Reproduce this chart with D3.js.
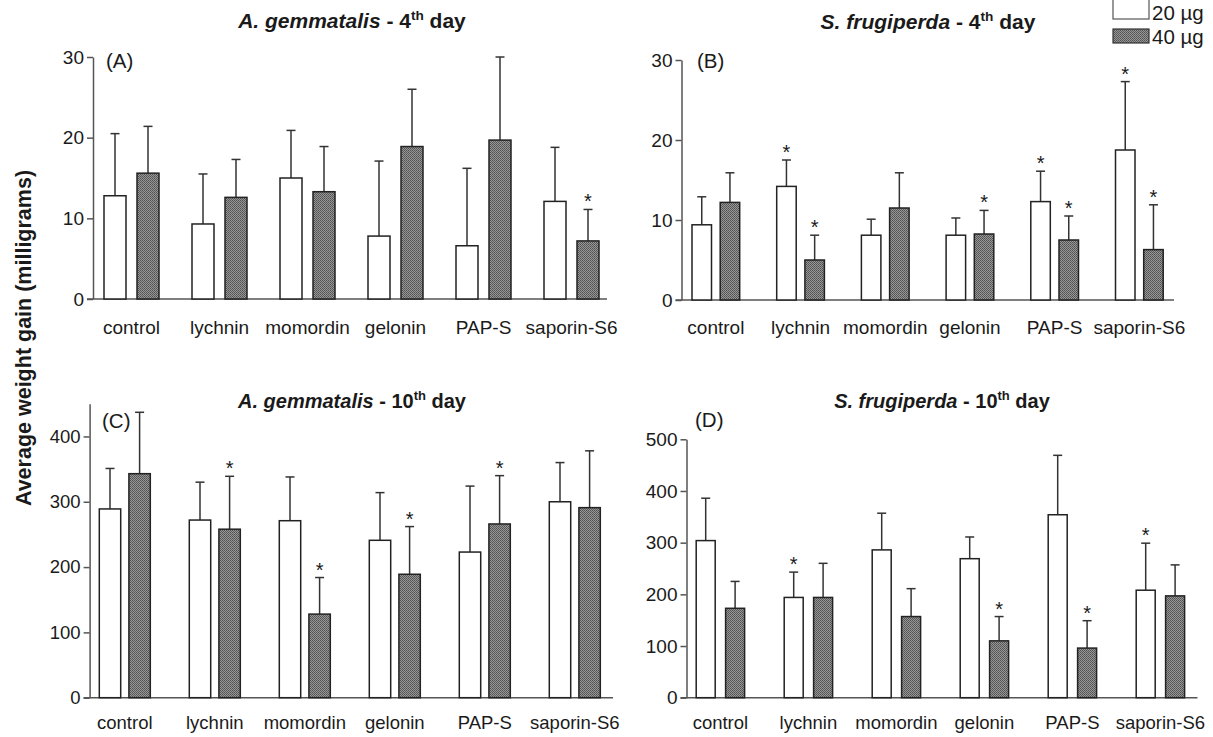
<!DOCTYPE html>
<html>
<head>
<meta charset="utf-8">
<script src="https://cdn.jsdelivr.net/npm/d3@7"></script>
<style>
  body { margin: 0; background: #fff; }
  svg text { font-family: "Liberation Sans", Arial, sans-serif; fill: #1a1a1a; }
</style>
</head>
<body>
<svg id="chart" width="1213" height="737"></svg>
<script>
// weight gain data

var categories = ["control", "lychnin", "momordin", "gelonin", "PAP-S", "saporin-S6"];
var doses = ["20 \u00b5g", "40 \u00b5g"];

// (A) A. gemmatalis, 4th day
var agem4_20 = [12.8, 9.3, 15.0, 7.8, 6.6, 12.1];
var agem4_20_sd = [7.7, 6.2, 5.9, 9.3, 9.6, 6.7];
var agem4_40 = [15.6, 12.6, 13.3, 18.9, 19.7, 7.2];
var agem4_40_sd = [5.8, 4.7, 5.6, 7.1, 10.3, 3.9];
var agem4_20_stars = [];
var agem4_40_stars = ["saporin-S6"];

// (B) S. frugiperda, 4th day
var sfru4_20 = [9.4, 14.2, 8.1, 8.1, 12.3, 18.75];
var sfru4_20_sd = [3.5, 3.3, 2.0, 2.15, 3.8, 8.55];
var sfru4_40 = [12.2, 5.0, 11.5, 8.25, 7.5, 6.3];
var sfru4_40_sd = [3.7, 3.1, 4.4, 2.95, 3.0, 5.6];
var sfru4_20_stars = ["lychnin", "PAP-S", "saporin-S6"];
var sfru4_40_stars = ["lychnin", "gelonin", "PAP-S", "saporin-S6"];

// (C) A. gemmatalis, 10th day
var agem10_20 = [289, 272, 271, 241, 223, 300];
var agem10_20_sd = [62, 58, 67, 73, 101, 60];
var agem10_40 = [343, 258, 128, 189, 266, 291];
var agem10_40_sd = [94, 81, 56, 73, 74, 87];
var agem10_20_stars = [];
var agem10_40_stars = ["lychnin", "momordin", "gelonin", "PAP-S"];

// (D) S. frugiperda, 10th day
var sfru10_20 = [304, 194, 286, 269, 354, 208];
var sfru10_20_sd = [82, 49, 71, 42, 115, 91];
var sfru10_40 = [173, 194, 157, 110, 96, 197];
var sfru10_40_sd = [52, 66, 54, 47, 53, 60];
var sfru10_20_stars = ["lychnin", "saporin-S6"];
var sfru10_40_stars = ["gelonin", "PAP-S"];

var ticksTop = [0, 10, 20, 30];
var ticksC = [0, 100, 200, 300, 400];
var ticksD = [0, 100, 200, 300, 400, 500];

var svg = d3.select("#chart");

// stippled grey fill for the 40 ug bars
var defs = svg.append("defs");
var pat = defs.append("pattern")
  .attr("id", "stipple")
  .attr("patternUnits", "userSpaceOnUse")
  .attr("width", 2).attr("height", 2);
pat.append("rect").attr("width", 2).attr("height", 2).attr("fill", "#979797");
pat.append("rect").attr("width", 1).attr("height", 1).attr("fill", "#505050");
pat.append("rect").attr("x", 1).attr("y", 1).attr("width", 1).attr("height", 1).attr("fill", "#5e5e5e");

///////////////////////////////////////////////////////////////////////////////
// one panel

var drawPanel = function (p) {
  var g = svg.append("g");

  var y = d3.scaleLinear().domain([0, p.ymax]).range([p.y0, p.ytop]);

  // groups: first white bar starts at p.first, groups p.step apart
  var groupW = 2 * p.barW + p.gap;
  var pin = (p.step - groupW) / p.step;
  var r0 = p.first - pin * p.step / 2;
  var x = d3.scaleBand().domain(categories)
    .range([r0, r0 + categories.length * p.step])
    .paddingInner(pin).paddingOuter(pin / 2);
  var xs = d3.scaleBand().domain(doses).range([0, groupW])
    .paddingInner(p.gap / (p.barW + p.gap));

  // y axis
  var yAxis = g.append("g")
    .attr("transform", "translate(" + p.left + ",0)")
    .call(d3.axisLeft(y).tickValues(p.ticks).tickSize(6).tickSizeOuter(0).tickPadding(3));
  yAxis.selectAll("path, line").attr("stroke", "#555").attr("stroke-width", 1.5);
  yAxis.selectAll("text").attr("font-size", p.tickFs || p.fs).style("font-family", null);

  // x axis line and category labels
  g.append("line")
    .attr("x1", p.left - 6).attr("x2", p.right)
    .attr("y1", y(0)).attr("y2", y(0))
    .attr("stroke", "#555").attr("stroke-width", 1.5);

  var xAxis = g.append("g")
    .attr("transform", "translate(0," + p.labelY + ")")
    .call(d3.axisBottom(x).tickSize(0).tickPadding(0));
  xAxis.select(".domain").remove();
  xAxis.selectAll("text").attr("font-size", p.fs).attr("dy", 0);

  var series = [
    {dose: doses[0], vals: p.v20, sd: p.sd20, stars: p.st20, fill: "#fff"},
    {dose: doses[1], vals: p.v40, sd: p.sd40, stars: p.st40, fill: "url(#stipple)"}
  ];

  series.forEach(function (s) {
    var rows = categories.map(function (c, i) {
      return {cat: c, v: s.vals[i], sd: s.sd[i], star: s.stars.indexOf(c) >= 0};
    });
    var cx = function (d) { return x(d.cat) + xs(s.dose) + xs.bandwidth() / 2; };

    // error bars (upper only)
    g.selectAll(null).data(rows).enter().append("line")
      .attr("x1", cx).attr("x2", cx)
      .attr("y1", function (d) { return y(d.v); })
      .attr("y2", function (d) { return y(d.v + d.sd); })
      .attr("stroke", "#333").attr("stroke-width", 1.5);
    g.selectAll(null).data(rows).enter().append("line")
      .attr("x1", function (d) { return cx(d) - 4.5; })
      .attr("x2", function (d) { return cx(d) + 4.5; })
      .attr("y1", function (d) { return y(d.v + d.sd); })
      .attr("y2", function (d) { return y(d.v + d.sd); })
      .attr("stroke", "#333").attr("stroke-width", 1.5);

    g.selectAll(null).data(rows).enter().append("rect")
      .attr("x", function (d) { return x(d.cat) + xs(s.dose); })
      .attr("width", xs.bandwidth())
      .attr("y", function (d) { return y(d.v); })
      .attr("height", function (d) { return y(0) - y(d.v); })
      .attr("fill", s.fill)
      .attr("stroke", "#222").attr("stroke-width", 1.5);

    g.selectAll(null).data(rows.filter(function (d) { return d.star; })).enter().append("text")
      .attr("x", cx)
      .attr("y", function (d) { return y(d.v + d.sd) - 1; })
      .attr("text-anchor", "middle")
      .attr("font-size", 20)
      .text("*");
  });

  // title
  var t = g.append("text")
    .attr("x", p.titleX).attr("y", p.titleY)
    .attr("text-anchor", "middle")
    .attr("font-size", p.tfs).attr("font-weight", "bold");
  t.append("tspan").attr("font-style", "italic").text(p.species);
  t.append("tspan").text(" - " + p.day);
  t.append("tspan").attr("font-size", p.tfs * 0.65).attr("dy", -p.tfs * 0.4).text("th");
  t.append("tspan").attr("dy", p.tfs * 0.4).text(" day");

  g.append("text")
    .attr("x", p.tagX).attr("y", p.tagY)
    .attr("font-size", 20.5)
    .text(p.tag);
};

drawPanel({tag: "(A)", species: "A. gemmatalis", day: "4",
  v20: agem4_20, sd20: agem4_20_sd, v40: agem4_40, sd40: agem4_40_sd,
  st20: agem4_20_stars, st40: agem4_40_stars, ymax: 30, ticks: ticksTop,
  left: 93, right: 607, y0: 299, ytop: 57, first: 104, step: 88, barW: 22, gap: 11,
  labelY: 334, fs: 19, titleX: 352, titleY: 28, tfs: 21, tagX: 106, tagY: 68});

drawPanel({tag: "(B)", species: "S. frugiperda", day: "4",
  v20: sfru4_20, sd20: sfru4_20_sd, v40: sfru4_40, sd40: sfru4_40_sd,
  st20: sfru4_20_stars, st40: sfru4_40_stars, ymax: 30, ticks: ticksTop,
  left: 681.5, right: 1174, y0: 300, ytop: 60, first: 692, step: 84.7, barW: 19.5, gap: 8.7,
  labelY: 334, fs: 19, titleX: 928, titleY: 29, tfs: 21, tagX: 697, tagY: 68});

drawPanel({tag: "(C)", species: "A. gemmatalis", day: "10",
  v20: agem10_20, sd20: agem10_20_sd, v40: agem10_40, sd40: agem10_40_sd,
  st20: agem10_20_stars, st40: agem10_40_stars, ymax: 450, ticks: ticksC,
  left: 89.6, right: 613, y0: 697.7, ytop: 403.8, first: 99.3, step: 90, barW: 21.4, gap: 8.2,
  labelY: 729, fs: 18.5, titleX: 352, titleY: 408, tfs: 20, tagX: 102, tagY: 428});

drawPanel({tag: "(D)", species: "S. frugiperda", day: "10",
  v20: sfru10_20, sd20: sfru10_20_sd, v40: sfru10_40, sd40: sfru10_40_sd,
  st20: sfru10_20_stars, st40: sfru10_40_stars, ymax: 500, ticks: ticksD,
  left: 686.5, right: 1197.5, y0: 697.7, ytop: 439.3, first: 696.2, step: 88, barW: 19, gap: 10.4,
  labelY: 729, fs: 18.5, tickFs: 19, titleX: 942, titleY: 408, tfs: 20, tagX: 695, tagY: 427});

// shared y label
svg.append("text")
  .attr("transform", "translate(31,338) rotate(-90)")
  .attr("text-anchor", "middle")
  .attr("font-size", 21.5).attr("font-weight", "bold")
  .text("Average weight gain (milligrams)");

// legend
var legend = svg.append("g");
legend.append("rect").attr("x", 1113).attr("y", -2).attr("width", 36).attr("height", 21)
  .attr("fill", "#fff").attr("stroke", "#555").attr("stroke-width", 1.2);
legend.append("rect").attr("x", 1113).attr("y", 29).attr("width", 36).attr("height", 14)
  .attr("fill", "url(#stipple)").attr("stroke", "#333").attr("stroke-width", 1.2);
legend.selectAll(null).data(doses).enter().append("text")
  .attr("x", 1152)
  .attr("y", function (d, i) { return 20 + i * 24; })
  .attr("font-size", 20.5)
  .text(function (d) { return d; });
</script>
</body>
</html>
